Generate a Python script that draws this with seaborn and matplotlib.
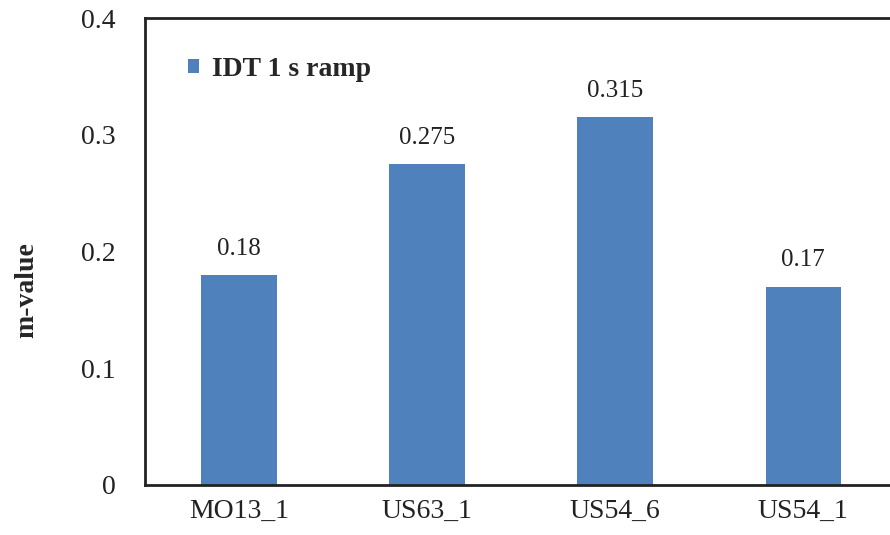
import matplotlib
matplotlib.use("Agg")
import matplotlib.pyplot as plt
import seaborn as sns
import pandas as pd
from matplotlib.ticker import FixedLocator
from matplotlib.patches import Patch

sites = ["MO13_1", "US63_1", "US54_6", "US54_1"]
m_values = [0.18, 0.275, 0.315, 0.17]
value_labels = ["0.18", "0.275", "0.315", "0.17"]
series_name = "IDT 1 s ramp"
y_ticks = [0, 0.1, 0.2, 0.3, 0.4]
y_tick_labels = ["0", "0.1", "0.2", "0.3", "0.4"]

sns.set_style("white")
plt.rcParams["font.family"] = ["Liberation Serif", "DejaVu Serif"]

bar_color = "#4F81BD"
df = pd.DataFrame({"site": sites, "m": m_values})

fig = plt.figure(figsize=(8.9, 5.35), dpi=100)
ax = fig.add_axes([0.163, 0.0935, 0.845, 0.8725])

sns.barplot(data=df, x="site", y="m", color=bar_color, width=0.4,
            saturation=1, ax=ax, edgecolor="none")

ax.set_xlim(-0.5, len(sites) - 0.5)
ax.set_ylim(0, 0.4)
ax.set_yticks(y_ticks)
ax.set_yticklabels(y_tick_labels, fontsize=20, color="#222222")
ax.tick_params(axis="y", direction="out", length=6, width=1, color="#666666", pad=15)

# category labels centred, tick marks on category boundaries
ax.tick_params(axis="x", which="major", length=0, labelsize=20, pad=10, labelcolor="#222222")
ax.xaxis.set_minor_locator(FixedLocator([i - 0.5 for i in range(len(sites) + 1)]))
ax.tick_params(axis="x", which="minor", direction="out", length=6, width=1, color="#666666")

ax.set_xlabel("")
ax.set_ylabel("m-value", fontsize=20, fontweight="bold")
ax.yaxis.set_label_coords(-0.141, 0.418)

for side in ["left", "bottom", "top"]:
    ax.spines[side].set_visible(True)
    ax.spines[side].set_color("#222222")
    ax.spines[side].set_linewidth(2)
ax.spines["right"].set_visible(False)

for bar, label in zip(ax.patches, value_labels):
    ax.annotate(label, (bar.get_x() + bar.get_width() / 2, bar.get_height()),
                xytext=(0, 11), textcoords="offset points",
                ha="center", va="bottom", fontsize=18, color="#222222")

handle = Patch(facecolor=bar_color, edgecolor="none")
ax.legend([handle], [series_name], loc="upper left", bbox_to_anchor=(0.024, 0.97),
          frameon=False, handlelength=0.4, handleheight=0.4, handletextpad=0.45,
          prop={"size": 20, "weight": "bold"})

fig.savefig("out.png", dpi=100)
